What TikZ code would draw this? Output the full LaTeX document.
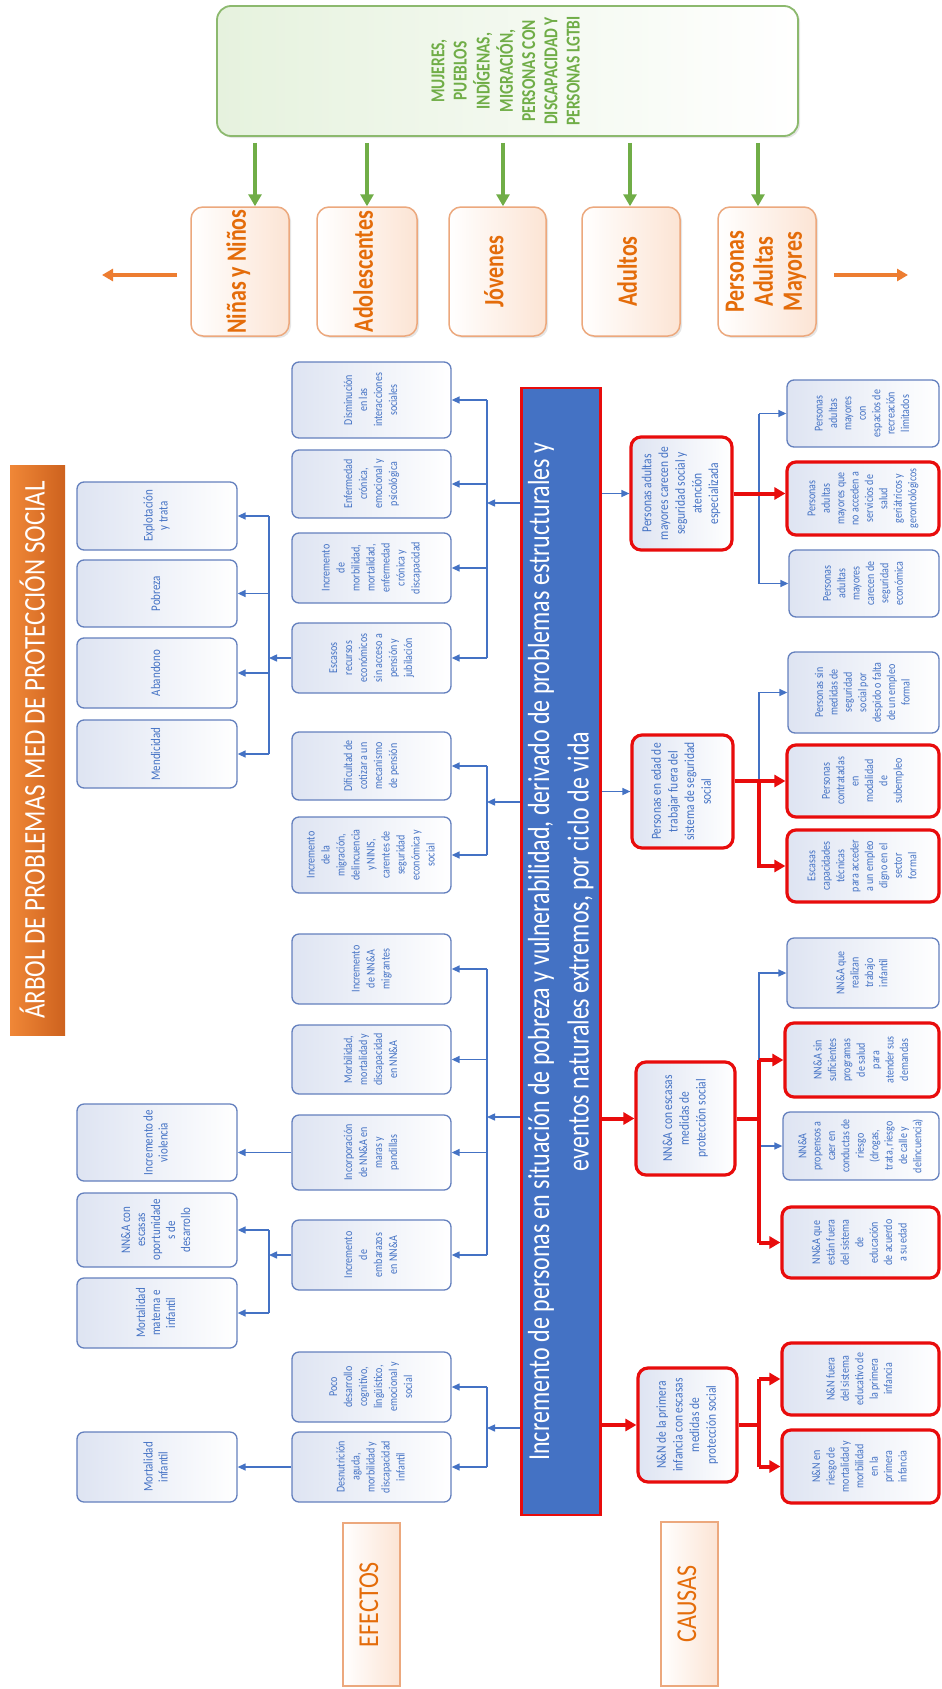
\documentclass[tikz,border=0pt]{standalone}
\usepackage{fontspec}
\setmainfont{Carlito}
\usepackage{graphicx}
\usetikzlibrary{arrows.meta,shadows}

\definecolor{tblue}{RGB}{68,114,196}
\definecolor{bbord}{RGB}{100,128,190}
\definecolor{bfill}{RGB}{222,228,242}
\definecolor{rred}{RGB}{232,12,12}
\definecolor{obar1}{RGB}{240,135,55}
\definecolor{obar2}{RGB}{205,98,30}
\definecolor{otext}{RGB}{228,108,10}
\definecolor{obord}{RGB}{236,168,125}
\definecolor{ofill}{RGB}{252,228,212}
\definecolor{gtext}{RGB}{112,173,71}
\definecolor{gbord}{RGB}{140,185,110}
\definecolor{gfill}{RGB}{230,242,222}
\definecolor{oarrow}{RGB}{237,125,49}

\newcommand\rt[2][1.2]{\rotatebox{90}{\scalebox{1}[#1]{\begin{tabular}{@{}c@{}}#2\end{tabular}}}}
\newcommand\boxat[7]{\node[#2,minimum width={#5-#3},minimum height={#6-#4}] (#1) at ({(#3+#5)/2},{(#4+#6)/2}) {#7};}

\tikzset{
 efbox/.style={rectangle, rounded corners=7pt, draw=bbord, line width=1.3pt, left color=bfill, right color=white, text=tblue, inner sep=0pt},
 effL/.style={efbox, font=\fontsize{11}{12.5}\selectfont},
 effM/.style={efbox, font=\fontsize{10}{12.5}\selectfont},
 cauA/.style={efbox, draw=rred, line width=3.2pt, rounded corners=10pt, font=\fontsize{11.5}{13.9}\selectfont},
 cauB/.style={efbox, font=\fontsize{10}{12}\selectfont},
 cauBr/.style={cauB, draw=rred, line width=3.2pt, rounded corners=9pt},
 mainbox/.style={rectangle, fill=tblue, draw=rred, line width=2.5pt, text=white, font=\fontsize{24}{31}\selectfont, inner sep=0pt},
 titlebar/.style={rectangle, left color=obar1, right color=obar2, text=white, font=\fontsize{25}{30}\selectfont, inner sep=0pt},
 agebox/.style={rectangle, rounded corners=12pt, draw=obord, line width=1.5pt, left color=white, right color=ofill, text=otext, font=\bfseries\fontsize{22}{22.8}\selectfont, inner sep=0pt, drop shadow={opacity=0.2, shadow xshift=2pt, shadow yshift=-2pt}},
 gbox/.style={rectangle, rounded corners=14pt, draw=gbord, line width=1.8pt, left color=gfill, right color=white, text=gtext, font=\bfseries\fontsize{15.5}{17.5}\selectfont, inner sep=0pt, drop shadow={opacity=0.2, shadow xshift=2pt, shadow yshift=-2pt}},
 labbox/.style={rectangle, draw=obord, line width=1.2pt, left color=white, right color=ofill, text=otext, font=\fontsize{24}{28}\selectfont, inner sep=0pt},
 bline/.style={draw=tblue, line width=1.4pt},
 barrow/.style={bline, -{Triangle[length=8pt,width=7pt]}},
 rline/.style={draw=rred, line width=4pt},
 rarrow/.style={rline, -{Triangle[length=11pt,width=12pt]}},
 garrow/.style={draw=gtext, line width=3.5pt, -{Triangle[length=12pt,width=13pt]}},
 oarr/.style={draw=oarrow, line width=3.5pt, -{Triangle[length=11pt,width=12pt]}}
}

\begin{document}
\begin{tikzpicture}[x=1pt,y=-1pt]
\useasboundingbox (0,0) rectangle (942,1689);
\fill[white] (0,0) rectangle (942,1689);

% title and labels
\boxat{title}{titlebar}{10}{465}{65}{1035}{\rt[1.2]{ÁRBOL DE PROBLEMAS MED DE PROTECCIÓN SOCIAL}}
\boxat{efx}{labbox}{343}{1523}{400}{1686}{\rt[1.2]{EFECTOS}}
\boxat{cau}{labbox}{661}{1522}{718}{1686}{\rt[1.2]{CAUSAS}}

% green group box
\boxat{grp}{gbox}{217}{6}{798}{136}{\rt[1.27]{MUJERES,\\PUEBLOS\\INDÍGENAS,\\MIGRACIÓN,\\PERSONAS CON\\DISCAPACIDAD Y\\PERSONAS LGTBI}}

% age boxes
\boxat{o1}{agebox}{191}{207}{289}{336}{\rt[1.27]{Niñas y Niños}}
\boxat{o2}{agebox}{317}{207}{417}{336}{\rt[1.27]{Adolescentes}}
\boxat{o3}{agebox}{449}{207}{546}{336}{\rt[1.27]{Jóvenes}}
\boxat{o4}{agebox}{582}{207}{680}{336}{\rt[1.27]{Adultos}}
\boxat{o5}{agebox}{718}{207}{816}{336}{\rt[1.27]{Personas\\Adultas\\Mayores}}

\foreach \i/\x in {1/255,2/367,3/503,4/630,5/758}{
  \coordinate (ga\i) at (\x,0);
  \draw[garrow, shorten <=6pt] (grp.south -| ga\i) -- (o\i.north -| ga\i);
}
\coordinate (la1) at (177,275); \coordinate (la2) at (102,275);
\coordinate (ra1) at (834,275); \coordinate (ra2) at (908,275);
\draw[oarr] (la1) -- (la2);
\draw[oarr] (ra1) -- (ra2);

% main problem
\boxat{main}{mainbox}{522}{388}{600}{1515}{\rt[1.27]{Incremento de personas en situación de pobreza y vulnerabilidad, derivado de problemas estructurales y\\eventos naturales extremos, por ciclo de vida}}

% effects, far left column
\boxat{e1}{effL}{77}{482}{237}{550}{\rt{Explotación\\y trata}}
\boxat{e2}{effL}{77}{560}{237}{627}{\rt{Pobreza}}
\boxat{e3}{effL}{77}{638}{237}{708}{\rt{Abandono}}
\boxat{e4}{effL}{77}{720}{237}{788}{\rt{Mendicidad}}
\boxat{e5}{effL}{77}{1104}{237}{1181}{\rt{Incremento de\\violencia}}
\boxat{e6}{effL}{77}{1193}{237}{1267}{\rt{NN\&A con\\escasas\\oportunidade\\s de\\desarrollo}}
\boxat{e7}{effL}{77}{1278}{237}{1348}{\rt{Mortalidad\\materna e\\infantil}}
\boxat{e8}{effL}{77}{1432}{237}{1502}{\rt{Mortalidad\\infantil}}

% effects, second column
\boxat{e9}{effM}{292}{362}{451}{438}{\rt{Disminución\\en las\\interacciones\\sociales}}
\boxat{e10}{effM}{292}{450}{451}{518}{\rt{Enfermedad\\crónica,\\emocional y\\psicológica}}
\boxat{e11}{effM}{292}{533}{451}{603}{\rt{Incremento\\de\\morbilidad,\\mortalidad,\\enfermedad\\crónica y\\discapacidad}}
\boxat{e12}{effM}{292}{623}{451}{693}{\rt{Escasos\\recursos\\económicos\\sin acceso a\\pensión y\\jubilación}}
\boxat{e13}{effM}{292}{732}{451}{800}{\rt{Dificultad de\\cotizar a un\\mecanismo\\de pensión}}
\boxat{e14}{effM}{292}{817}{451}{893}{\rt{Incremento\\de la\\migración,\\delincuencia\\y NINIS,\\carentes de\\seguridad\\económica y\\social}}
\boxat{e15}{effM}{292}{934}{451}{1004}{\rt{Incremento\\de NN\&A\\migrantes}}
\boxat{e16}{effM}{292}{1025}{451}{1094}{\rt{Morbilidad,\\mortalidad y\\discapacidad\\en NN\&A}}
\boxat{e17}{effM}{292}{1115}{451}{1190}{\rt{Incorporación\\de NN\&A en\\maras y\\pandillas}}
\boxat{e18}{effM}{292}{1220}{451}{1290}{\rt{Incremento\\de\\embarazos\\en NN\&A}}
\boxat{e19}{effM}{292}{1352}{451}{1422}{\rt{Poco\\desarrollo\\cognitivo,\\lingüístico,\\emocional y\\social}}
\boxat{e20}{effM}{292}{1432}{451}{1502}{\rt{Desnutrición\\aguda,\\morbilidad y\\discapacidad\\infantil}}

% causes, first column
\boxat{c21}{cauA}{631}{437}{732}{550}{\rt{Personas adultas\\mayores carecen de\\seguridad social y\\atención\\especializada}}
\boxat{c22}{cauA}{632}{735}{733}{848}{\rt{Personas en edad de\\trabajar fuera del\\sistema de seguridad\\social}}
\boxat{c23}{cauA}{636}{1062}{735}{1175}{\rt{NN\&A con escasas\\medidas de\\protección social}}
\boxat{c24}{cauA}{638}{1368}{737}{1482}{\rt{N\&N de la primera\\infancia con escasas\\medidas de\\protección social}}

% causes, second column
\boxat{c25}{cauB}{787}{380}{939}{447}{\rt{Personas\\adultas\\mayores\\con\\espacios de\\recreación\\limitados}}
\boxat{c26}{cauBr}{787}{462}{939}{535}{\rt{Personas\\adultas\\mayores que\\no acceden a\\servicios de\\salud\\geriátricos y\\gerontológicos}}
\boxat{c27}{cauB}{789}{550}{939}{617}{\rt{Personas\\adultas\\mayores\\carecen de\\seguridad\\económica}}
\boxat{c28}{cauB}{788}{652}{939}{733}{\rt{Personas sin\\medidas de\\seguridad\\social por\\despido o falta\\de un empleo\\formal}}
\boxat{c29}{cauBr}{787}{745}{939}{817}{\rt{Personas\\contratadas\\en\\modalidad\\de\\subempleo}}
\boxat{c30}{cauBr}{787}{830}{939}{902}{\rt{Escasas\\capacidades\\técnicas\\para acceder\\a un empleo\\digno en el\\sector\\formal}}
\boxat{c31}{cauB}{787}{938}{939}{1008}{\rt{NN\&A que\\realizan\\trabajo\\infantil}}
\boxat{c32}{cauBr}{785}{1023}{939}{1097}{\rt{NN\&A sin\\suficientes\\programas\\de salud\\para\\atender sus\\demandas}}
\boxat{c33}{cauB}{783}{1112}{939}{1180}{\rt{NN\&A\\propensos a\\caer en\\conductas de\\riesgo\\(drogas,\\trata, riesgo\\de calle y\\delincuencia)}}
\boxat{c34}{cauBr}{782}{1207}{939}{1278}{\rt{NN\&A que\\están fuera\\del sistema\\de\\educación\\de acuerdo\\a su edad}}
\boxat{c35}{cauBr}{782}{1343}{939}{1415}{\rt{N\&N fuera\\del sistema\\educativo de\\la primera\\infancia}}
\boxat{c36}{cauBr}{782}{1430}{939}{1503}{\rt{N\&N en\\riesgo de\\mortalidad y\\morbilidad\\en la\\primera\\infancia}}

% bus coordinates and input levels
\coordinate (bA) at (269,0);
\coordinate (bB) at (487,0);
\coordinate (bC) at (759,0);
\coordinate (yB) at (0,503);
\coordinate (yC) at (0,802);
\coordinate (yD) at (0,1117);
\coordinate (yE) at (0,1428);

% group A (elderly effects, far left)
\draw[bline] (bA |- e1) -- (bA |- e4);
\foreach \n in {e1,e2,e3,e4} \draw[barrow] (bA |- \n) -- (\n.east);
\draw[barrow] (e12.west) -- (bA |- e12);

% group B
\draw[bline] (bB |- e9) -- (bB |- e12);
\foreach \n in {e9,e10,e11,e12} \draw[barrow] (bB |- \n) -- (\n.east);
\draw[barrow] (main.west |- yB) -- (bB |- yB);

% group C
\draw[bline] (bB |- e13) -- (bB |- e14);
\foreach \n in {e13,e14} \draw[barrow] (bB |- \n) -- (\n.east);
\draw[barrow] (main.west |- yC) -- (bB |- yC);

% group D
\draw[bline] (bB |- e15) -- (bB |- e18);
\foreach \n in {e15,e16,e17,e18} \draw[barrow] (bB |- \n) -- (\n.east);
\draw[barrow] (main.west |- yD) -- (bB |- yD);
\draw[barrow] (e17.west) -- (e5.east |- e17.west);
\draw[bline] (bA |- e6) -- (bA |- e7);
\foreach \n in {e6,e7} \draw[barrow] (bA |- \n) -- (\n.east);
\draw[barrow] (e18.west) -- (bA |- e18);

% group E
\draw[bline] (bB |- e19) -- (bB |- e20);
\foreach \n in {e19,e20} \draw[barrow] (bB |- \n) -- (\n.east);
\draw[barrow] (main.west |- yE) -- (bB |- yE);
\draw[barrow] (e20.west) -- (e8.east);

% causes: elderly
\draw[barrow] (main.east |- c21) -- (c21.west);
\draw[bline] (bC |- c25) -- (bC |- c27);
\draw[barrow] (bC |- c25) -- (c25.west);
\draw[barrow] (bC |- c27) -- (c27.west);
\draw[rarrow] (c21.east) -- (c26.west |- c21.east);

% causes: working age
\draw[barrow] (main.east |- c22) -- (c22.west);
\draw[barrow] (bC |- c29) |- (c28.west);
\draw[rarrow] (c22.east |- c29) -- (c29.west);
\draw[rarrow] (bC |- c29) |- (c30.west);

% causes: NN&A
\draw[rarrow] (main.east |- c23) -- (c23.west);
\draw[barrow] (bC |- c32) |- (c31.west);
\draw[barrow] (bC |- c33) -- (c33.west);
\draw[rline] (c23.east) -- (bC |- c23);
\draw[rline] (bC |- c32) -- (bC |- c34);
\draw[rarrow] (bC |- c32) -- (c32.west);
\draw[rarrow] (bC |- c34) -- (c34.west);

% causes: N&N
\draw[rarrow] (main.east |- c24) -- (c24.west);
\draw[rline] (c24.east) -- (bC |- c24);
\draw[rline] (bC |- c35) -- (bC |- c36);
\draw[rarrow] (bC |- c35) -- (c35.west);
\draw[rarrow] (bC |- c36) -- (c36.west);
\end{tikzpicture}
\end{document}
